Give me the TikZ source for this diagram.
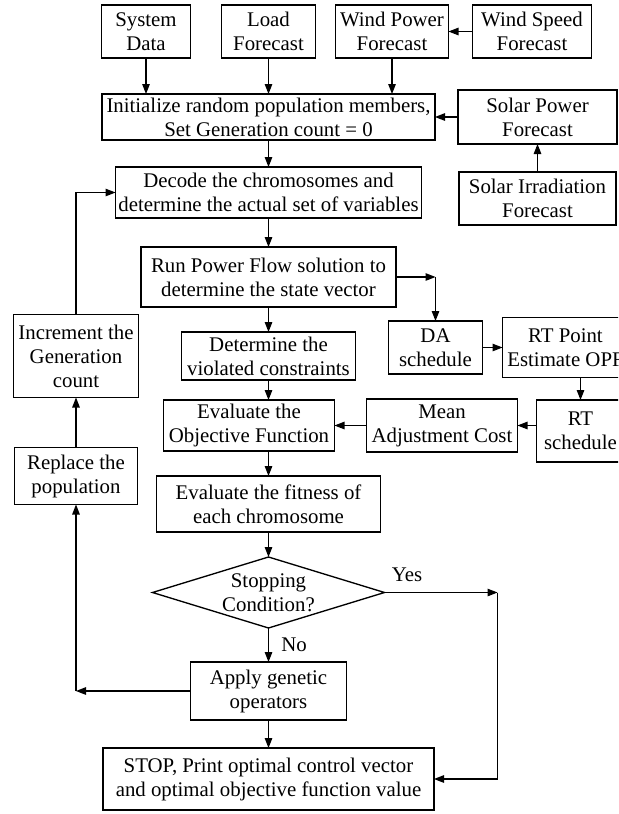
\documentclass[tikz,border=0pt]{standalone}
\usepackage{fontspec}
\setmainfont{Liberation Serif}
\usetikzlibrary{shapes.geometric, arrows.meta, positioning}

\begin{document}
\begin{tikzpicture}[
  x=0.6pt, y=-0.6pt,
  box/.style={rectangle, draw, thick, align=center, inner xsep=1pt, inner ysep=1pt, outer sep=0pt, font=\fontsize{12.5}{14.4}\selectfont},
  cond/.style={diamond, draw, thick, align=center, aspect=3.27, inner sep=0pt, outer sep=0pt, font=\fontsize{12.5}{14.4}\selectfont},
  arr/.style={-{Triangle[length=6pt, width=4.5pt]}, thick},
  lbl/.style={font=\fontsize{12.5}{14.4}\selectfont},
]
\useasboundingbox (0,0) rectangle (618,814);
\clip (0,0) rectangle (618,814);

% inputs
\node[box, minimum width=199.8pt, minimum height=27.6pt] (init) at (268.5,117) {Initialize random population members,\\Set Generation count = 0};
\node[box, minimum width=56.4pt, minimum height=31.8pt, above=21.6pt of init] (load) {Load\\Forecast};
\node[box, minimum width=53.4pt, minimum height=31.8pt, left=18.6pt of load] (sys) {System\\Data};
\node[box, minimum width=67.8pt, minimum height=31.8pt, right=12pt of load] (wpow) {Wind Power\\Forecast};
\node[box, minimum width=71.4pt, minimum height=31.8pt, right=14.4pt of wpow] (wspd) {Wind Speed\\Forecast};
\node[box, minimum width=95.4pt, minimum height=32.4pt, right=13.8pt of init] (spow) {Solar Power\\Forecast};
\node[box, minimum width=94.2pt, minimum height=31.8pt, below=16.8pt of spow] (sirr) {Solar Irradiation\\Forecast};

% main loop
\node[box, minimum width=183.6pt, minimum height=30.6pt, below=16.2pt of init] (decode) {Decode the chromosomes and\\determine the actual set of variables};
\node[box, minimum width=153pt, minimum height=36pt, below=17.4pt of decode] (run) {Run Power Flow solution to\\determine the state vector};
\node[box, minimum width=104.4pt, minimum height=28.8pt, below=15pt of run] (det) {Determine the\\violated constraints};
\node[box, minimum width=102.6pt, minimum height=30.6pt, below=12pt of det, xshift=-11.7pt] (eval) {Evaluate the\\Objective Function};
\node[box, minimum width=134.4pt, minimum height=33.6pt, below=15pt of eval, xshift=11.7pt] (fit) {Evaluate the fitness of\\each chromosome};
\node[cond, minimum width=139.2pt, minimum height=42.6pt, below=15pt of fit] (stopc) {Stopping\\Condition?};
\node[box, minimum width=93.6pt, minimum height=34.8pt, below=20.4pt of stopc] (apply) {Apply genetic\\operators};
\node[box, minimum width=198.6pt, minimum height=37.2pt, below=16.8pt of apply] (stop) {STOP, Print optimal control vector\\and optimal objective function value};

% side branches
\node[box, minimum width=75pt, minimum height=49.8pt, left=25.8pt of det] (incr) {Increment the\\Generation\\count};
\node[box, minimum width=73.8pt, minimum height=34.2pt, below=30pt of incr] (repl) {Replace the\\population};
\node[box, minimum width=56.4pt, minimum height=31.8pt, right=19.8pt of det, yshift=5.1pt] (da) {DA\\schedule};
\node[box, minimum width=75.6pt, minimum height=36pt, right=12pt of da] (rtpt) {RT Point\\Estimate OPF};
\node[box, minimum width=90.6pt, minimum height=31.8pt, right=19.2pt of eval] (mean) {Mean\\Adjustment Cost};
\node[box, minimum width=52.8pt, minimum height=37.2pt, right=11.4pt of mean, yshift=-3.3pt] (rtsch) {RT\\schedule};
\coordinate[right=67.8pt of stopc.east] (yes);

\draw[arr] (sys) -- (sys |- init.north);
\draw[arr] (load) -- (load |- init.north);
\draw[arr] (wpow) -- (wpow |- init.north);
\draw[arr] (wspd) -- (wpow);
\draw[arr] (spow) -- (init);
\draw[arr] (sirr.north) -- (sirr.north |- spow.south);
\draw[arr] (init.south) -- (init.south |- decode.north);
\draw[arr] (decode.south) -- (decode.south |- run.north);
\draw[arr] (run.south) -- (run.south |- det.north);
\draw[arr] (det.south) -- (det.south |- eval.north);
\draw[arr] (fit.north |- eval.south) -- (fit.north);
\draw[arr] (fit) -- (stopc);
\draw[arr] (stopc) -- node[lbl, right=4pt] {No} (apply);
\draw[arr] (apply) -- (stop);
\draw[arr] (run.east) -- (run.east -| da.north);
\draw[arr] (run.east -| da.north) -- (da.north);
\draw[arr] (da.east) -- (da.east -| rtpt.west);
\draw[arr] (rtsch.north |- rtpt.south) -- (rtsch.north);
\draw[arr] (rtsch.west |- mean.east) -- (mean.east);
\draw[arr] (mean) -- (eval);
\draw[arr] (incr.north) |- (decode.west);
\draw[arr] (repl) -- (incr);
\draw[arr] (apply.west) -- (apply.west -| repl.south);
\draw[arr] (apply.west -| repl.south) -- (repl.south);
\draw[arr] (stopc.east) -- node[lbl, above=2.5pt, pos=0.2] {Yes} (yes);
\draw[arr] (yes) |- (stop.east);
\end{tikzpicture}
\end{document}
